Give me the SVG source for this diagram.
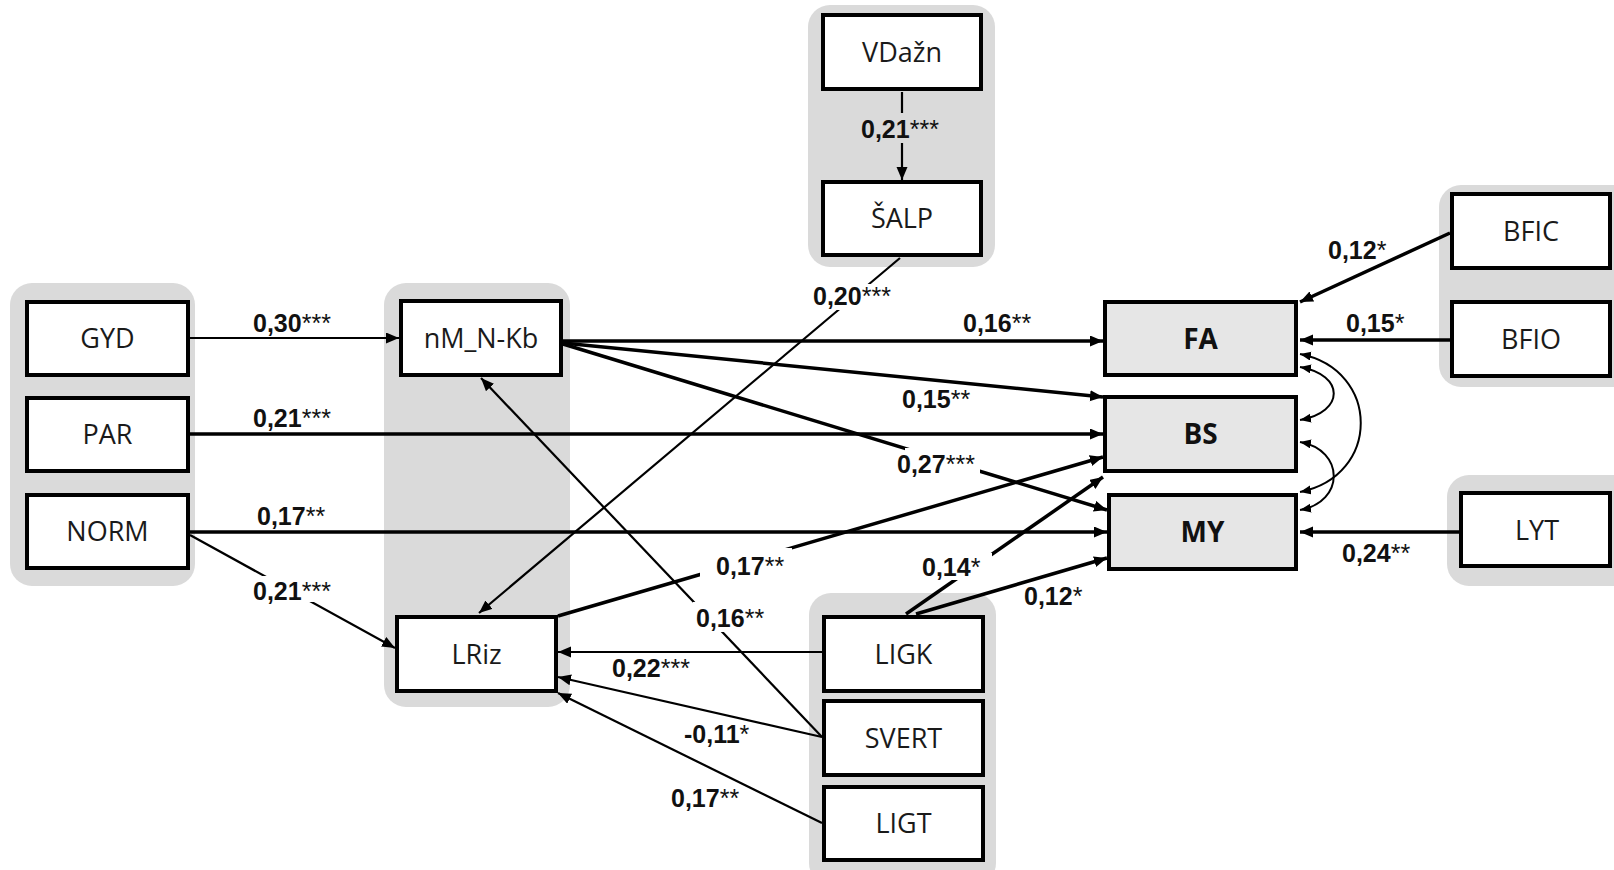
<svg xmlns="http://www.w3.org/2000/svg" width="1614" height="870" viewBox="0 0 1614 870">
<style>
.grp{fill:#dadada;}
.box{fill:#fff;stroke:#000;stroke-width:4;}
.out{fill:#e6e6e6;stroke:#000;stroke-width:4;}
.nt{font-family:"Open Sans","Liberation Sans",sans-serif;font-size:27px;fill:#1a1a1a;text-anchor:middle;}
.bt{font-family:"Open Sans","Liberation Sans",sans-serif;font-size:28px;font-weight:bold;fill:#111;text-anchor:middle;}
.lb{font-family:"Liberation Sans",Arial,sans-serif;font-size:25px;font-weight:bold;fill:#111;}
.st{font-weight:normal;}
.thick{fill:none;stroke:#000;stroke-width:3.5;marker-end:url(#ah);}
.thin{fill:none;stroke:#000;stroke-width:2.2;marker-end:url(#ah);}
.cor{fill:none;stroke:#000;stroke-width:2;marker-start:url(#sh);marker-end:url(#sh);}
</style>
<defs>
<marker id="ah" markerUnits="userSpaceOnUse" markerWidth="14" markerHeight="12" refX="13" refY="5.5" orient="auto">
<path d="M0,0 L13,5.5 L0,11 z" fill="#000"/>
</marker>
<marker id="sh" markerUnits="userSpaceOnUse" markerWidth="12" markerHeight="10" refX="11" refY="4.5" orient="auto-start-reverse">
<path d="M0,0 L11,4.5 L0,9 z" fill="#000"/>
</marker>
<mask id="gaps" maskUnits="userSpaceOnUse" x="0" y="0" width="1614" height="870">
<rect x="0" y="0" width="1614" height="870" fill="#fff"/>
<rect x="905" y="448" width="75" height="30" fill="#000"/>
<rect x="812" y="284" width="85" height="26" fill="#000"/>
<rect x="860" y="113" width="83" height="30" fill="#000"/>
<rect x="700" y="548" width="92" height="32" fill="#000"/>
<rect x="918" y="553" width="74" height="27" fill="#000"/>
<rect x="693" y="602" width="77" height="30" fill="#000"/>
<rect x="250" y="576" width="87" height="26" fill="#000"/>
</mask>
</defs>

<g id="groups">
<rect class="grp" x="10" y="283" width="185" height="303" rx="22"/>
<rect class="grp" x="384" y="283" width="186" height="424" rx="22"/>
<rect class="grp" x="808" y="5" width="187" height="262" rx="22"/>
<rect class="grp" x="809" y="593" width="187" height="292" rx="22"/>
<rect class="grp" x="1439" y="185" width="200" height="202" rx="22"/>
<rect class="grp" x="1447" y="475" width="200" height="111" rx="22"/>
</g>

<g id="connectors" mask="url(#gaps)">
<path class="thin" d="M190,338 L399,338"/>
<path class="thick" d="M190,434 L1103,434"/>
<path class="thick" d="M190,532 L1107,532"/>
<path class="thin" d="M190,535 L395,648"/>
<path class="thick" d="M563,341 L1103,341"/>
<path class="thick" d="M563,343 L1103,397"/>
<path class="thick" d="M563,344 L1107,510"/>
<path class="thin" d="M900,258 L479,613"/>
<path class="thin" d="M902,92 L902,180"/>
<path class="thin" d="M822,737 L481,378"/>
<path class="thick" d="M558,616 L1103,457"/>
<path class="thick" d="M906,614 L1103,477"/>
<path class="thick" d="M916,614 L1107,558"/>
<path class="thin" d="M822,652 L558,652"/>
<path class="thin" d="M822,737 L558,677"/>
<path class="thin" d="M822,823 L558,693"/>
<path class="thick" d="M1450,233 L1300,302"/>
<path class="thick" d="M1450,340 L1300,340"/>
<path class="thick" d="M1459,532 L1300,532"/>
<path class="cor" d="M1300,354 C1381,370 1381,476 1300,492"/>
<path class="cor" d="M1300,367 C1345,375 1345,412 1300,420"/>
<path class="cor" d="M1300,442 C1345,450 1345,502 1300,510"/>
</g>

<g id="node-GYD"><rect class="box" x="27" y="302" width="161" height="73"/><text class="nt" x="107.5" y="348">GYD</text></g>
<g id="node-PAR"><rect class="box" x="27" y="398" width="161" height="73"/><text class="nt" x="107.5" y="444">PAR</text></g>
<g id="node-NORM"><rect class="box" x="27" y="495" width="161" height="73"/><text class="nt" x="107.5" y="541">NORM</text></g>
<g id="node-nM_N-Kb"><rect class="box" x="401" y="301" width="160" height="74"/><text class="nt" x="481" y="347.5">nM_N-Kb</text></g>
<g id="node-LRiz"><rect class="box" x="397" y="617" width="159" height="74"/><text class="nt" x="476.5" y="663.5">LRiz</text></g>
<g id="node-VDazn"><rect class="box" x="823" y="15" width="158" height="74"/><text class="nt" x="902" y="61.5">VDažn</text></g>
<g id="node-SALP"><rect class="box" x="823" y="182" width="158" height="73"/><text class="nt" x="902" y="228">ŠALP</text></g>
<g id="node-FA"><rect class="out" x="1105" y="302" width="191" height="73"/><text class="bt" x="1200.5" y="348.5">FA</text></g>
<g id="node-BS"><rect class="out" x="1105" y="397" width="191" height="74"/><text class="bt" x="1200.5" y="444">BS</text></g>
<g id="node-MY"><rect class="out" x="1109" y="495" width="187" height="74"/><text class="bt" x="1202.5" y="542">MY</text></g>
<g id="node-BFIC"><rect class="box" x="1452" y="194" width="158" height="74"/><text class="nt" x="1531" y="240.5">BFIC</text></g>
<g id="node-BFIO"><rect class="box" x="1452" y="302" width="158" height="74"/><text class="nt" x="1531" y="348.5">BFIO</text></g>
<g id="node-LYT"><rect class="box" x="1461" y="493" width="149" height="73"/><text class="nt" x="1537" y="539.5">LYT</text></g>
<g id="node-LIGK"><rect class="box" x="824" y="617" width="159" height="74"/><text class="nt" x="903.5" y="663.5">LIGK</text></g>
<g id="node-SVERT"><rect class="box" x="824" y="701" width="159" height="74"/><text class="nt" x="903.5" y="747.5">SVERT</text></g>
<g id="node-LIGT"><rect class="box" x="824" y="787" width="159" height="73"/><text class="nt" x="903.5" y="833">LIGT</text></g>

<g id="labels">
<text class="lb" x="253" y="332">0,30<tspan class="st">***</tspan></text>
<text class="lb" x="253" y="427">0,21<tspan class="st">***</tspan></text>
<text class="lb" x="257" y="525">0,17<tspan class="st">**</tspan></text>
<text class="lb" x="253" y="600">0,21<tspan class="st">***</tspan></text>
<text class="lb" x="963" y="332">0,16<tspan class="st">**</tspan></text>
<text class="lb" x="902" y="408">0,15<tspan class="st">**</tspan></text>
<text class="lb" x="897" y="473">0,27<tspan class="st">***</tspan></text>
<text class="lb" x="813" y="305">0,20<tspan class="st">***</tspan></text>
<text class="lb" x="861" y="138">0,21<tspan class="st">***</tspan></text>
<text class="lb" x="716" y="575">0,17<tspan class="st">**</tspan></text>
<text class="lb" x="922" y="576">0,14<tspan class="st">*</tspan></text>
<text class="lb" x="1024" y="605">0,12<tspan class="st">*</tspan></text>
<text class="lb" x="696" y="627">0,16<tspan class="st">**</tspan></text>
<text class="lb" x="612" y="677">0,22<tspan class="st">***</tspan></text>
<text class="lb" x="684" y="743">-0,11<tspan class="st">*</tspan></text>
<text class="lb" x="671" y="807">0,17<tspan class="st">**</tspan></text>
<text class="lb" x="1328" y="259">0,12<tspan class="st">*</tspan></text>
<text class="lb" x="1346" y="332">0,15<tspan class="st">*</tspan></text>
<text class="lb" x="1342" y="562">0,24<tspan class="st">**</tspan></text>
</g>
</svg>
